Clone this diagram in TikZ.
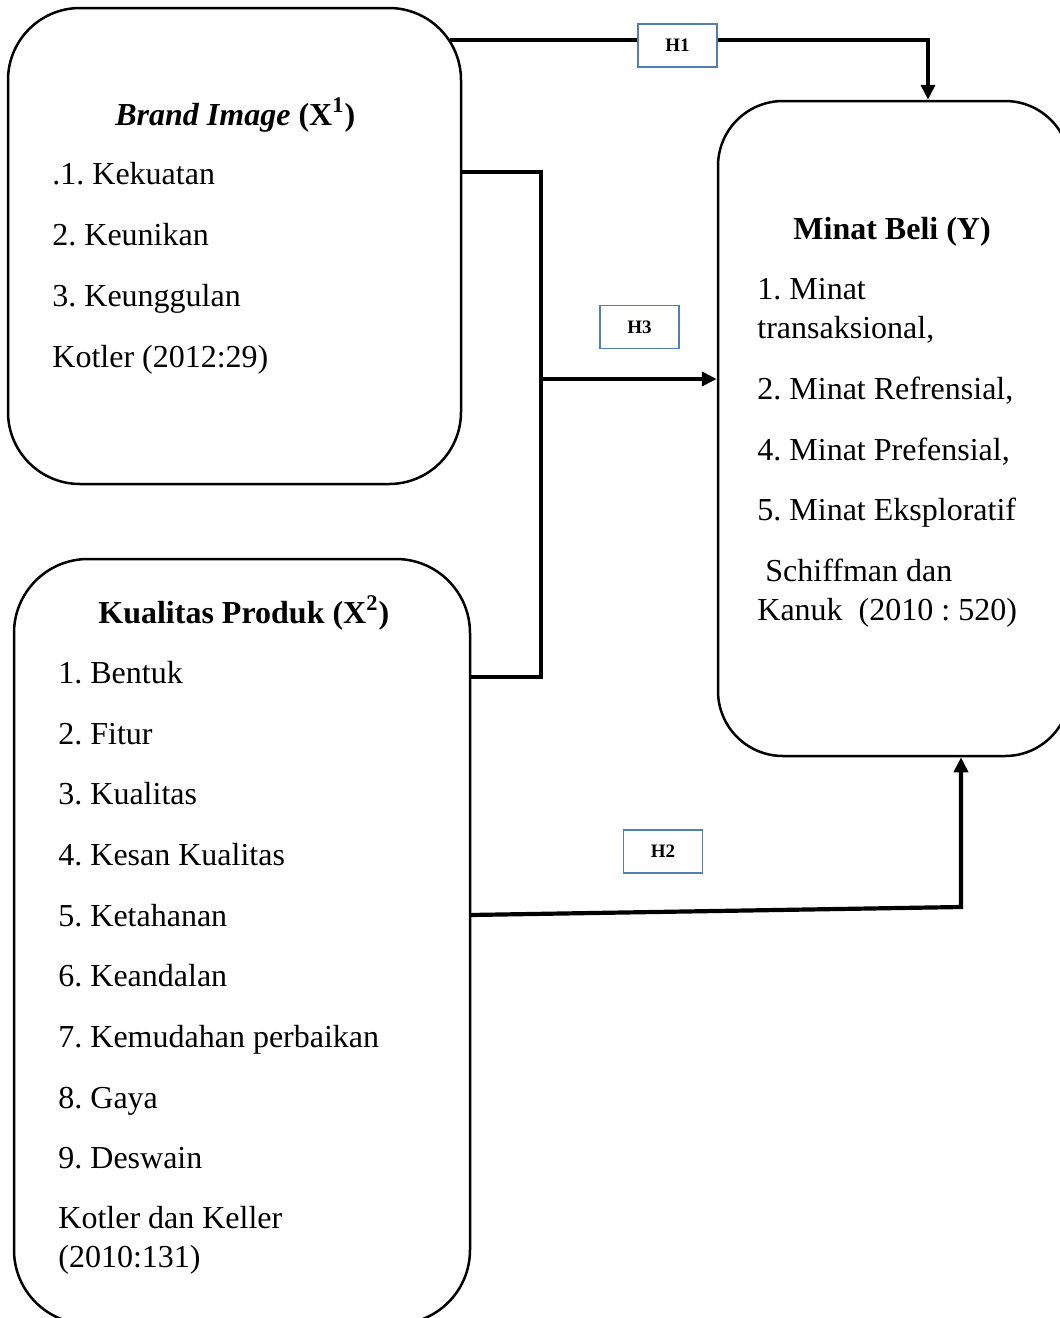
\documentclass[tikz,border=0pt]{standalone}
\usepackage{fontspec}
\setmainfont{Liberation Serif}
\usetikzlibrary{arrows.meta}
\definecolor{hbox}{RGB}{84,125,176}
\frenchspacing
\begin{document}
\begin{tikzpicture}[x=0.5pt,y=-0.5pt,
  varbox/.style={draw, line width=1.25pt, inner sep=0pt},
  conn/.style={line width=2.1pt},
  arr/.style={conn, -{Triangle[length=7.5pt,width=7pt]}},
  hlabel/.style={draw=hbox, line width=0.7pt, fill=white, inner sep=0pt, minimum width=39.5pt, minimum height=21.5pt, font=\fontsize{9.5}{11}\selectfont\bfseries},
  txt/.style={anchor=base west, inner sep=0pt, font=\fontsize{16}{19}\selectfont},
  ttl/.style={anchor=base west, inner sep=0pt, font=\fontsize{16}{19}\selectfont\bfseries}]
\useasboundingbox (0,0) rectangle (1060,1318);
\clip (0,0) rectangle (1060,1318);

% boxes
\node[varbox, rounded corners=36pt, minimum width=226.5pt, minimum height=238pt] (b1) at (234.5,246) {};
\node[varbox, rounded corners=37pt, minimum width=228pt, minimum height=382.5pt] (b2) at (242,941.5) {};
\node[varbox, rounded corners=32.5pt, minimum width=176pt, minimum height=327.5pt] (b3) at (894,428.5) {};

% box 1 texts
\node[ttl] (t1) at (115,125) {\textit{Brand Image} (X\textsuperscript{1})};
\node[txt] (a1) at (52,184) {.1. Kekuatan};
\node[txt] (a2) at (52,245) {2. Keunikan};
\node[txt] (a3) at (52,306) {3. Keunggulan};
\node[txt] (a4) at (52,367) {Kotler (2012:29)};

% box 2 texts
\node[ttl] (t2) at (98,623) {Kualitas Produk (X\textsuperscript{2})};
\node[txt] (c1) at (58,683.5) {1. Bentuk};
\node[txt] (c2) at (58,744.5) {2. Fitur};
\node[txt] (c3) at (58,804.5) {3. Kualitas};
\node[txt] (c4) at (58,865.5) {4. Kesan Kualitas};
\node[txt] (c5) at (58,926.5) {5. Ketahanan};
\node[txt] (c6) at (58,986.5) {6. Keandalan};
\node[txt] (c7) at (58,1047.5) {7. Kemudahan perbaikan};
\node[txt] (c8) at (58,1108.5) {8. Gaya};
\node[txt] (c9) at (58,1168.5) {9. Deswain};
\node[txt] (c10) at (58,1228.5) {Kotler dan Keller};
\node[txt] (c11) at (58,1267.5) {(2010:131)};

% box 3 texts
\node[ttl] (t3) at (793,239) {Minat Beli (Y)};
\node[txt] (d1) at (757,299) {1. Minat};
\node[txt] (d2) at (757,338) {transaksional,};
\node[txt] (d3) at (757,399) {2. Minat Refrensial,};
\node[txt] (d4) at (757,460) {4. Minat Prefensial,};
\node[txt] (d5) at (757,520) {5. Minat Eksploratif};
\node[txt] (d6) at (765,581) {Schiffman dan};
\node[txt] (d7) at (757,620) {Kanuk\ \ (2010 : 520)};

% connector H1
\coordinate (h1s) at (450,40);
\coordinate (h1c) at (928,40);
\draw[arr] (h1s) -- (h1c) -- (h1c |- b3.north);

% connector H3
\coordinate (j1) at (541,172);
\coordinate (j2) at (541,677);
\coordinate (j3) at (541,379);
\draw[conn] (b1.east |- j1) -- (j1) -- (j2) -- (b2.east |- j2);
\draw[arr] (j3) -- (j3 -| b3.west);

% connector H2
\coordinate (k1) at (470,915);
\coordinate (k2) at (961,907);
\draw[arr] (k1) -- (k2) -- (k2 |- b3.south);

% labels
\node[hlabel] (H1) at (677.5,45.5) {H1};
\node[hlabel] (H3) at (639.5,327) {H3};
\node[hlabel] (H2) at (663,851.5) {H2};
\end{tikzpicture}
\end{document}
